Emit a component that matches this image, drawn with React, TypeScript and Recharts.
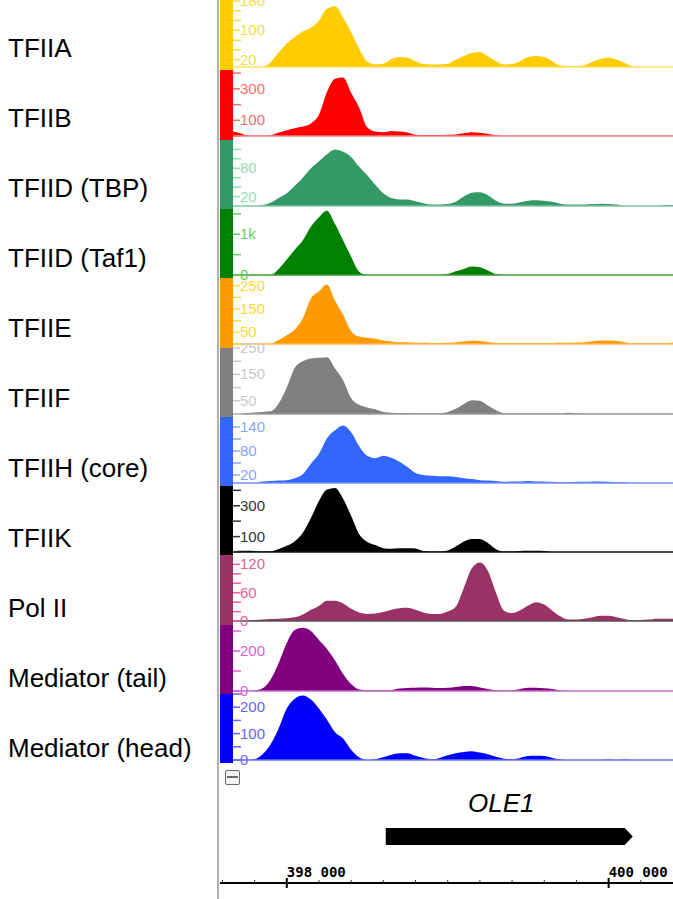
import React from 'react';
import { AreaChart, Area, XAxis, YAxis, ReferenceLine, BarChart, Bar } from 'recharts';

// genomic positions (bp) of the sampled signal
const positions = [
  397600, 397650, 397700, 397750, 397800, 397850, 397900, 397950, 398000, 398050,
  398100, 398150, 398200, 398250, 398300, 398350, 398400, 398450, 398500, 398550,
  398600, 398650, 398700, 398750, 398800, 398850, 398900, 398950, 399000, 399050,
  399100, 399150, 399200, 399250, 399300, 399350, 399400, 399450, 399500, 399550,
  399600, 399650, 399700, 399750, 399800, 399850, 399900, 399950, 400000, 400050,
  400100, 400150, 400200, 400250, 400300, 400350, 400400,
];

const trackNames = [
  'TFIIA', 'TFIIB', 'TFIID (TBP)', 'TFIID (Taf1)', 'TFIIE', 'TFIIF',
  'TFIIH (core)', 'TFIIK', 'Pol II', 'Mediator (tail)', 'Mediator (head)',
];

const tfiiaValues = [0, 0, 0, 0, 0, 1, 13, 40, 64, 82, 97, 107, 127, 159, 166, 136, 95, 50, 15, 7, 9, 21, 27, 25, 16, 8, 7, 7, 9, 20, 30, 38, 41, 29, 16, 7, 8, 16, 27, 30, 27, 16, 4, 3, 3, 5, 14, 22, 25, 20, 11, 2, 0, 0, 0, 0, 0];
const tfiibValues = [0, 30, 20, 5, 3, 3, 5, 22, 37, 50, 60, 80, 135, 280, 365, 372, 275, 180, 55, 28, 24, 32, 28, 22, 8, 6, 6, 6, 8, 10, 17, 24, 20, 12, 5, 2, 1, 1, 1, 1, 1, 1, 1, 1, 1, 1, 1, 1, 1, 1, 1, 1, 1, 1, 1, 1, 1];
const tbpValues = [0, 0, 0, 0, 0, 2, 7, 17, 27, 43, 60, 80, 95, 110, 120, 115, 104, 83, 65, 45, 27, 17, 14, 14, 10, 6, 3, 3, 4, 9, 20, 28, 29, 23, 11, 5, 5, 8, 11, 12, 11, 9, 5, 3, 3, 3, 4, 5, 4, 3, 0, 0, 0, 0, 0, 2, 2];
const taf1Values = [0, 0, 0, 0, 0, 0, 0, 150, 380, 620, 850, 1190, 1420, 1580, 1250, 850, 450, 80, 0, 0, 0, 0, 0, 0, 0, 0, 0, 0, 25, 90, 150, 210, 190, 110, 20, 0, 0, 0, 0, 0, 0, 0, 0, 0, 0, 0, 0, 0, 0, 0, 0, 0, 0, 0, 0, 0, 0];
const tfiieValues = [0, 0, 0, 0, 0, 0, 2, 17, 38, 62, 110, 195, 225, 255, 185, 125, 55, 32, 27, 22, 15, 11, 8, 7, 5, 5, 4, 4, 5, 8, 11, 14, 13, 9, 5, 4, 4, 4, 4, 4, 4, 4, 5, 5, 6, 8, 12, 15, 15, 13, 8, 3, 3, 3, 3, 3, 6];
const tfiifValues = [0, 0, 0, 4, 6, 8, 10, 40, 100, 175, 200, 210, 213, 215, 172, 128, 60, 35, 25, 18, 8, 5, 4, 4, 3, 3, 3, 3, 8, 20, 38, 52, 50, 32, 14, 3, 2, 2, 2, 2, 2, 2, 2, 5, 3, 1, 1, 1, 1, 1, 1, 1, 1, 1, 1, 1, 1];
const tfiihValues = [0, 0, 0, 0, 0, 4, 5, 6, 7, 12, 22, 48, 73, 112, 132, 144, 127, 92, 68, 62, 68, 63, 53, 40, 25, 20, 18, 17, 17, 15, 12, 10, 7, 6, 5, 3, 4, 4, 5, 4, 4, 3, 2, 2, 3, 3, 4, 4, 3, 2, 2, 0, 0, 0, 0, 0, 0];
const tfiikValues = [0, 0, 8, 8, 6, 4, 5, 20, 40, 70, 125, 220, 330, 405, 415, 345, 235, 115, 65, 45, 25, 21, 24, 25, 22, 6, 3, 4, 10, 35, 68, 85, 84, 58, 18, 3, 3, 6, 8, 8, 6, 0, 0, 0, 0, 0, 0, 0, 0, 0, 0, 0, 0, 0, 0, 0, 0];
const pol2Values = [0, 0, 0, 1, 2, 3, 4, 5, 6, 8, 14, 24, 32, 43, 43, 37, 26, 18, 15, 16, 19, 24, 27, 28, 24, 18, 15, 15, 20, 30, 70, 112, 124, 106, 60, 22, 17, 23, 33, 40, 35, 22, 10, 3, 3, 5, 8, 11, 11, 8, 4, 1, 2, 3, 5, 5, 5];
const medTailValues = [0, 0, 0, 0, 3, 14, 58, 140, 240, 305, 316, 300, 255, 210, 152, 85, 35, 8, 4, 4, 4, 5, 12, 15, 16, 17, 16, 15, 16, 20, 25, 25, 18, 10, 4, 2, 3, 10, 16, 16, 14, 10, 2, 0, 0, 0, 0, 0, 0, 0, 0, 0, 0, 0, 0, 0, 0];
const medHeadValues = [0, 0, 0, 0, 3, 22, 60, 120, 195, 232, 244, 229, 195, 152, 105, 81, 39, 10, 0, 3, 10, 20, 26, 26, 16, 8, 3, 8, 18, 26, 30, 33, 28, 22, 12, 5, 3, 8, 15, 16, 15, 8, 2, 0, 0, 0, 0, 0, 2, 0, 2, 0, 0, 0, 0, 0, 0];

// y-axis scale maxima per track
const trackMax = [180, 420, 140, 1620, 283, 250, 165, 428, 140, 330, 250];

// y-axis tick values and labels per track
const tfiiaTicks = [20, 47, 73, 100, 127, 153, 180];
const tfiiaTickLabels = ['20', '', '', '100', '', '', '180'];
const tfiibTicks = [0, 100, 200, 300, 400];
const tfiibTickLabels = ['', '100', '', '300', ''];
const tbpTicks = [0, 20, 40, 60, 80, 100, 120];
const tbpTickLabels = ['', '20', '', '', '80', '', ''];
const taf1Ticks = [0, 500, 1000, 1500];
const taf1TickLabels = ['0', '', '1k', ''];
const tfiieTicks = [0, 50, 100, 150, 200, 250];
const tfiieTickLabels = ['', '50', '', '150', '', '250'];
const tfiifTicks = [0, 50, 100, 150, 200, 250];
const tfiifTickLabels = ['', '50', '', '150', '', '250'];
const tfiihTicks = [20, 50, 80, 110, 140];
const tfiihTickLabels = ['20', '', '80', '', '140'];
const tfiikTicks = [0, 100, 200, 300, 400];
const tfiikTickLabels = ['', '100', '', '300', ''];
const pol2Ticks = [0, 20, 40, 60, 80, 100, 120];
const pol2TickLabels = ['0', '', '', '60', '', '', '120'];
const medTailTicks = [0, 100, 200, 300];
const medTailTickLabels = ['0', '', '200', ''];
const medHeadTicks = [0, 50, 100, 150, 200, 250];
const medHeadTickLabels = ['0', '', '100', '', '200', ''];

const fillColors = ['#FFCC00', '#FF0000', '#339966', '#008000', '#FF9900', '#808080', '#3366FF', '#000000', '#993366', '#800080', '#0000FF'];
const labelColors = ['#eee04a', '#ff6b6b', '#8fe0b4', '#5ccf5c', '#ffd83a', '#c8c8c8', '#84a8ff', '#333333', '#e8609c', '#dd5cdd', '#6464ff'];
const baseColors = ['#ffdf66', '#ff8080', '#86c4a4', '#33a033', '#ffb84d', '#9a9a9a', '#6f93ff', '#111111', '#555555', '#c46cc4', '#6a74ff'];

// gene annotation and ruler
const geneNames = ['OLE1'];
const geneStarts = [398615];
const geneEnds = [400150];
const rulerTicks = [397600, 397800, 398000, 398200, 398400, 398600, 398800, 399000, 399200, 399400, 399600, 399800, 400000, 400200];
const rulerLabelValues = [398000, 400000];
const rulerLabelTexts = ['398 000', '400 000'];

const X_DOMAIN: [number, number] = [397585, 400400];
const TRACK_X_DOMAIN: [number, number] = [397666, 400400];
const FONT = '"Liberation Sans", Arial, Helvetica, sans-serif';

const trackValues = [tfiiaValues, tfiibValues, tbpValues, taf1Values, tfiieValues, tfiifValues, tfiihValues, tfiikValues, pol2Values, medTailValues, medHeadValues];
const trackTicks = [tfiiaTicks, tfiibTicks, tbpTicks, taf1Ticks, tfiieTicks, tfiifTicks, tfiihTicks, tfiikTicks, pol2Ticks, medTailTicks, medHeadTicks];
const trackTickLabels = [tfiiaTickLabels, tfiibTickLabels, tbpTickLabels, taf1TickLabels, tfiieTickLabels, tfiifTickLabels, tfiihTickLabels, tfiikTickLabels, pol2TickLabels, medTailTickLabels, medHeadTickLabels];

const TRACK_STEP = 69.3;
const TRACK_TOP0 = 1;
const PLOT_H = 66;
const EXTRA_TOP = 12;
const EXTRA_BOTTOM = 10;
const LEFT = 220;
const WIDTH = 453;
const BAR_W = 13;

function makeTrackTick(color: string, ticks: number[], labels: string[]) {
  return (props: any) => {
    const { y, payload } = props;
    const idx = ticks.indexOf(payload.value);
    const lbl = idx >= 0 ? labels[idx] : '';
    return (
      <g>
        <line x1={BAR_W} x2={lbl ? BAR_W + 7 : BAR_W + 8} y1={y} y2={y} stroke={color} strokeWidth={1.5} />
        {lbl ? (
          <text x={BAR_W + 7} y={y} dy={5} fill={color} fontSize={15} fontFamily={FONT}>
            {lbl}
          </text>
        ) : null}
      </g>
    );
  };
}

const RulerTick = (props: any) => {
  const { x, y, payload } = props;
  const idx = rulerLabelValues.indexOf(payload.value);
  if (idx >= 0) {
    return (
      <g>
        <line x1={x} x2={x} y1={y - 5} y2={y + 5} stroke="#000" strokeWidth={2} />
        <text x={x} y={y - 6} fontSize={14} fontWeight="bold" fontFamily='"DejaVu Sans Mono", monospace' fill="#000">
          {rulerLabelTexts[idx]}
        </text>
      </g>
    );
  }
  return <line x1={x} x2={x} y1={y - 3} y2={y} stroke="#333" strokeWidth={1} />;
};

const GeneShape = (props: any) => {
  const { x, y, width, height, payload } = props;
  const head = 8;
  const pts = `${x},${y} ${x + width - head},${y} ${x + width},${y + height / 2} ${x + width - head},${y + height} ${x},${y + height}`;
  return (
    <g>
      <polygon points={pts} fill="#000" />
      <text x={x + (width - head) / 2 - 4} y={y - 16} textAnchor="middle" fontStyle="italic" fontSize={26} fontFamily={FONT} fill="#000">
        {payload.name}
      </text>
    </g>
  );
};

function Track({ i }: { i: number }) {
  const data = positions.map((pos, k) => ({ pos, v: trackValues[i][k] }));
  const top = TRACK_TOP0 + TRACK_STEP * i;
  return (
    <div style={{ position: 'absolute', left: LEFT, top: top - EXTRA_TOP, width: WIDTH, height: PLOT_H + EXTRA_TOP + EXTRA_BOTTOM }}>
      <AreaChart
        width={WIDTH}
        height={PLOT_H + EXTRA_TOP + EXTRA_BOTTOM}
        data={data}
        margin={{ top: EXTRA_TOP, right: 0, bottom: EXTRA_BOTTOM, left: 0 }}
      >
        <XAxis dataKey="pos" type="number" domain={TRACK_X_DOMAIN} allowDataOverflow hide />
        <YAxis
          type="number"
          domain={[0, trackMax[i]]}
          allowDataOverflow
          ticks={trackTicks[i]}
          interval={0}
          width={BAR_W}
          axisLine={false}
          tickLine={false}
          tickSize={0}
          tickMargin={0}
          tick={makeTrackTick(labelColors[i], trackTicks[i], trackTickLabels[i])}
        />
        <Area
          type="monotone"
          dataKey="v"
          stroke="none"
          fill={fillColors[i]}
          fillOpacity={1}
          isAnimationActive={false}
          dot={false}
          activeDot={false}
        />
        <ReferenceLine y={0} stroke={baseColors[i]} strokeWidth={1.5} />
      </AreaChart>
    </div>
  );
}

export default function App() {
  const geneData = geneNames.map((name, k) => ({ name, range: [geneStarts[k], geneEnds[k]] }));
  return (
    <div style={{ position: 'absolute', left: 0, top: 0, width: 673, height: 899, background: '#fff', overflow: 'hidden', fontFamily: FONT }}>
      {trackNames.map((name, i) => (
        <div
          key={'n' + i}
          style={{ position: 'absolute', left: 8, top: 48 + 70 * i - 15, height: 30, lineHeight: '30px', fontSize: 26, color: '#000', whiteSpace: 'nowrap', fontFamily: FONT }}
        >
          {name}
        </div>
      ))}
      {trackNames.map((_, i) => {
        const t = Math.round(TRACK_TOP0 + TRACK_STEP * i);
        const b = Math.round(TRACK_TOP0 + TRACK_STEP * (i + 1));
        return (
          <div key={'b' + i} style={{ position: 'absolute', left: LEFT, top: i === 0 ? 0 : t, width: BAR_W, height: b - (i === 0 ? 0 : t), background: fillColors[i] }} />
        );
      })}
      {trackNames.map((_, i) => (
        <Track key={'t' + i} i={i} />
      ))}
      <div style={{ position: 'absolute', left: 217, top: 0, width: 2, height: 899, background: '#b0b0b0' }} />
      <div style={{ position: 'absolute', left: 225, top: 770, width: 13, height: 13, border: '1px solid #6a6a6a', borderRadius: 2, background: '#f4f4f4' }}>
        <div style={{ position: 'absolute', left: 1, top: 5, width: 11, height: 2, background: '#6a6a6a' }} />
      </div>
      <div style={{ position: 'absolute', left: LEFT, top: 770, width: WIDTH, height: 130 }}>
        <BarChart
          width={WIDTH}
          height={130}
          data={geneData}
          layout="vertical"
          margin={{ top: 20, right: 0, bottom: 7, left: 0 }}
        >
          <XAxis
            type="number"
            domain={X_DOMAIN}
            allowDataOverflow
            ticks={rulerTicks}
            interval={0}
            height={10}
            axisLine={{ stroke: '#000', strokeWidth: 2 }}
            tickLine={false}
            tickSize={0}
            tickMargin={0}
            tick={<RulerTick />}
          />
          <YAxis type="category" dataKey="name" hide />
          <Bar dataKey="range" barSize={17} fill="#000" isAnimationActive={false} shape={<GeneShape />} />
        </BarChart>
      </div>
    </div>
  );
}
